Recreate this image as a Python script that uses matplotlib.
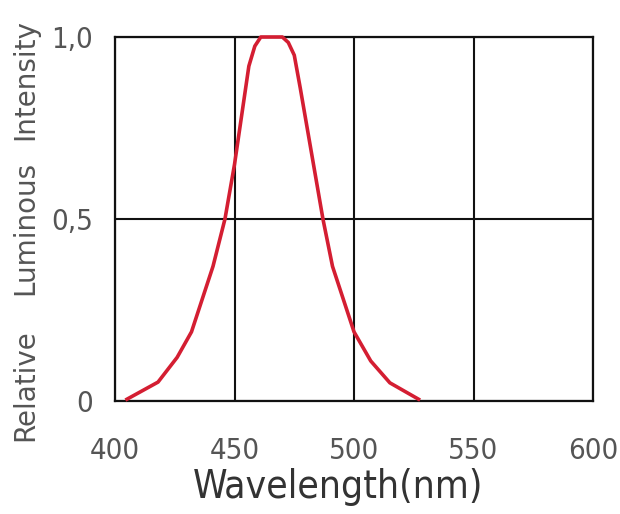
import matplotlib
matplotlib.use("Agg")
import matplotlib.pyplot as plt

wavelength = [405, 418, 426, 432, 441, 446, 450, 456, 458.5, 461, 465, 470, 472.5, 475, 477.5, 487, 491, 500, 507, 515, 527]
intensity = [0.005, 0.052, 0.12, 0.19, 0.37, 0.5, 0.65, 0.92, 0.975, 1.0, 1.0, 1.0, 0.985, 0.95, 0.86, 0.5, 0.37, 0.19, 0.11, 0.05, 0.005]
x_ticks = [400, 450, 500, 550, 600]
y_ticks = [0, 0.5, 1.0]
y_tick_labels = ["0", "0,5", "1,0"]
y_label_words = ["Relative", "Luminous", "Intensity"]

fam = "DejaVu Sans"
stretch = "condensed"

fig = plt.figure(figsize=(6.2, 5.14), dpi=100)
ax = fig.add_axes([0.1855, 0.2198, 0.7710, 0.7082])
ax.set_xlim(400, 600)
ax.set_ylim(0, 1)
ax.set_xticks(x_ticks)
ax.set_yticks(y_ticks)
ax.set_yticklabels(y_tick_labels)
ax.tick_params(length=0, colors="#555555")
ax.tick_params(axis="x", pad=26)
ax.tick_params(axis="y", pad=16)
for lab in ax.get_xticklabels() + ax.get_yticklabels():
    lab.set_fontfamily(fam)
    lab.set_fontstretch(stretch)
    lab.set_fontsize(21)
for s in ax.spines.values():
    s.set_linewidth(1.6)
    s.set_color("#111111")
ax.grid(True, color="#111111", linewidth=1.5)
ax.set_axisbelow(True)
ax.plot(wavelength, intensity, color="#d41e32", linewidth=2.6, clip_on=False, zorder=5)

fig.text(0.545, 0.052, "Wavelength(nm)", fontsize=28, color="#333333",
         family=fam, fontstretch=stretch, ha="center", va="center")
y_word_pos = [385, 228, 80]
for w, yp in zip(y_label_words, y_word_pos):
    fig.text(25 / 620, 1 - yp / 514, w, fontsize=20, color="#555555",
             family=fam, rotation=90, ha="center", va="center")

fig.savefig("out.png", dpi=100, facecolor="white")
